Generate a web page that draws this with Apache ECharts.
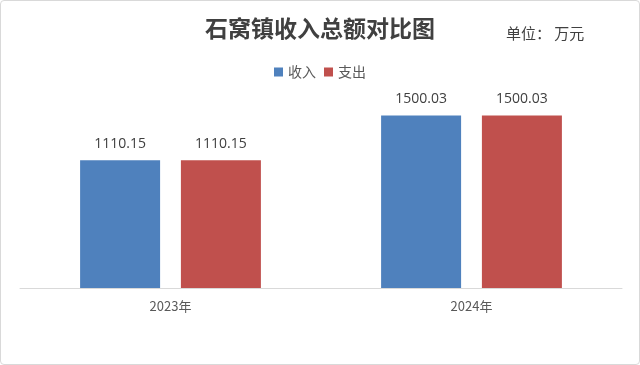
<!DOCTYPE html>
<html><head><meta charset="utf-8">
<script src="https://cdn.jsdelivr.net/npm/echarts@6/dist/echarts.min.js"></script>
<style>html,body{margin:0;padding:0;background:#fff}#c{width:640px;height:365px;box-sizing:border-box;border:1px solid #d9d9d9;border-radius:4px}</style>
</head><body><div id="c"></div>
<script>
const categories = ['2023年', '2024年'];
const income = [1110.15, 1500.03];
const expense = [1110.15, 1500.03];
const chart = echarts.init(document.getElementById('c'));
const lbl = {show:true, position:'top', distance:9, color:'#404040', fontSize:14, fontFamily:'"Open Sans", "Noto Sans CJK SC", sans-serif', formatter: p => p.value.toFixed(2)};
chart.setOption({
  animation:false,
  title:{text:'石窝镇收入总额对比图', left:'center', top:11, textStyle:{fontSize:23, fontWeight:'bold', color:'#404040', fontFamily:'"Noto Sans CJK SC", sans-serif'}},
  graphic:[{type:'text', left:505, top:25, style:{text:'单位： 万元', fill:'#404040', font:'15px "Noto Sans CJK SC", sans-serif'}}],
  legend:{top:59, left:'center', itemWidth:9, itemHeight:9, itemGap:8, icon:'rect', textStyle:{fontSize:14, color:'#595959', fontFamily:'"Noto Sans CJK SC", sans-serif'}},
  grid:{left:19, right:17, top:57, bottom:76},
  xAxis:{type:'category', data:categories, axisLine:{lineStyle:{color:'#d9d9d9'}}, axisTick:{show:false}, axisLabel:{color:'#595959', fontSize:13, margin:12, fontFamily:'"Noto Sans CJK SC", sans-serif'}},
  yAxis:{type:'value', min:0, max:2000, show:false, splitLine:{show:false}},
  series:[
    {name:'收入', type:'bar', data:income, barWidth:80, barGap:'26%', itemStyle:{color:'#4f81bd'}, label:lbl},
    {name:'支出', type:'bar', data:expense, barWidth:80, itemStyle:{color:'#c0504d'}, label:lbl}
  ]
});
</script></body></html>
